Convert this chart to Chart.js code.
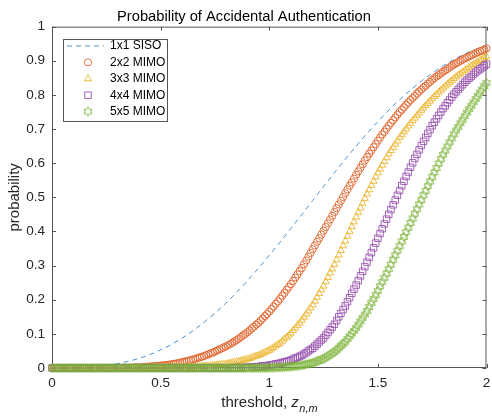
<!DOCTYPE html>
<html>
<head>
<meta charset="utf-8">
<script src="https://cdn.jsdelivr.net/npm/chart.js@4/dist/chart.umd.min.js"></script>
<style>
  html, body { margin: 0; padding: 0; background: #fff; }
  #wrap { width: 492px; height: 416px; }
</style>
</head>
<body>
<div id="wrap"><canvas id="probChart" width="492" height="416"></canvas></div>
<script>
const FONT = '"Liberation Sans", Arial, Helvetica, sans-serif';

// threshold grids (x positions the values were read at)
const thresholdGrid = Array.from({ length: 201 }, (_, i) => i / 100);
const sisoGrid = Array.from({ length: 21 }, (_, i) => i / 10);

const seriesNames = ['1x1 SISO', '2x2 MIMO', '3x3 MIMO', '4x4 MIMO', '5x5 MIMO'];
const xTicks = [0, 0.5, 1, 1.5, 2];

// 1x1 SISO, read every 0.1
const siso1x1 = [0, 0.0005, 0.004, 0.013, 0.028, 0.053, 0.088, 0.134, 0.190, 0.256,
  0.330, 0.409, 0.491, 0.572, 0.650, 0.722, 0.786, 0.840, 0.885, 0.920, 0.946];

// MIMO curves, read every 0.01 (one row = 0.1 of threshold)
const mimo2x2 = [
  0, 0, 0, 0, 0, 0, 0, 0, 0, 0,
  0, 0, 0, 0, 0, 0, 0, 0, 0, 0,
  0, 0, 0, 0, 0, 0, 0, 0, 0, 0,
  0, 0, 0, .001, .001, .001, .001, .001, .002, .002,
  .002, .002, .003, .003, .004, .004, .005, .005, .006, .006,
  .007, .008, .008, .009, .010, .011, .012, .013, .014, .016,
  .017, .019, .020, .022, .023, .025, .027, .029, .031, .033,
  .035, .038, .040, .043, .045, .048, .051, .054, .057, .060,
  .063, .067, .070, .074, .078, .082, .086, .091, .096, .100,
  .105, .110, .116, .121, .127, .132, .139, .145, .152, .158,
  .165, .173, .180, .188, .195, .203, .212, .220, .229, .237,
  .246, .255, .265, .274, .284, .293, .304, .315, .326, .337,
  .348, .359, .370, .380, .391, .402, .413, .424, .435, .446,
  .457, .468, .479, .490, .501, .512, .523, .534, .544, .555,
  .566, .576, .587, .597, .608, .618, .628, .637, .647, .656,
  .666, .675, .684, .692, .701, .710, .718, .726, .734, .742,
  .750, .757, .764, .771, .778, .785, .791, .797, .804, .810,
  .816, .822, .827, .833, .838, .844, .849, .854, .858, .863,
  .868, .872, .876, .881, .885, .889, .893, .896, .900, .903,
  .907, .910, .913, .916, .919, .922, .925, .928, .930, .933,
  .936
];

const mimo3x3 = [
  0, 0, 0, 0, 0, 0, 0, 0, 0, 0,
  0, 0, 0, 0, 0, 0, 0, 0, 0, 0,
  0, 0, 0, 0, 0, 0, 0, 0, 0, 0,
  0, 0, 0, 0, 0, 0, 0, 0, 0, 0,
  0, 0, 0, 0, 0, 0, 0, 0, 0, 0,
  0, 0, 0, .001, .001, .001, .001, .001, .002, .002,
  .002, .002, .002, .003, .003, .003, .003, .004, .004, .005,
  .005, .006, .006, .007, .007, .008, .009, .010, .010, .011,
  .012, .013, .014, .016, .017, .018, .020, .021, .023, .024,
  .026, .028, .030, .033, .035, .037, .040, .043, .046, .049,
  .052, .056, .060, .065, .069, .073, .079, .085, .090, .096,
  .102, .110, .117, .125, .132, .140, .149, .158, .167, .176,
  .185, .196, .207, .218, .229, .240, .253, .265, .278, .290,
  .303, .317, .331, .344, .358, .372, .386, .400, .414, .428,
  .442, .456, .469, .483, .496, .510, .522, .535, .547, .560,
  .572, .583, .594, .605, .616, .627, .637, .646, .656, .665,
  .675, .683, .692, .700, .709, .717, .725, .732, .740, .747,
  .755, .762, .769, .775, .782, .789, .795, .801, .808, .814,
  .820, .826, .831, .837, .842, .848, .853, .858, .862, .867,
  .872, .876, .880, .885, .889, .893, .897, .901, .904, .908,
  .912
];

const mimo4x4 = [
  0, 0, 0, 0, 0, 0, 0, 0, 0, 0,
  0, 0, 0, 0, 0, 0, 0, 0, 0, 0,
  0, 0, 0, 0, 0, 0, 0, 0, 0, 0,
  0, 0, 0, 0, 0, 0, 0, 0, 0, 0,
  0, 0, 0, 0, 0, 0, 0, 0, 0, 0,
  0, 0, 0, 0, 0, 0, 0, 0, 0, 0,
  0, 0, 0, 0, 0, 0, 0, 0, 0, 0,
  0, 0, 0, 0, 0, 0, 0, 0, 0, 0,
  0, 0, 0, 0, .001, .001, .001, .001, .001, .002,
  .002, .002, .003, .003, .004, .004, .005, .006, .006, .007,
  .008, .009, .010, .012, .013, .014, .016, .018, .019, .021,
  .023, .026, .029, .031, .034, .037, .041, .045, .050, .054,
  .058, .064, .070, .076, .082, .088, .096, .104, .112, .120,
  .128, .139, .150, .160, .171, .182, .194, .206, .219, .231,
  .243, .256, .270, .283, .297, .310, .324, .338, .352, .366,
  .380, .394, .408, .422, .436, .450, .464, .478, .492, .506,
  .520, .534, .547, .561, .574, .588, .601, .614, .626, .639,
  .652, .664, .675, .687, .698, .710, .720, .730, .740, .750,
  .760, .768, .777, .785, .794, .802, .809, .816, .823, .830,
  .837, .843, .849, .854, .860, .866, .871, .876, .880, .885,
  .890
];

const mimo5x5 = [
  0, 0, 0, 0, 0, 0, 0, 0, 0, 0,
  0, 0, 0, 0, 0, 0, 0, 0, 0, 0,
  0, 0, 0, 0, 0, 0, 0, 0, 0, 0,
  0, 0, 0, 0, 0, 0, 0, 0, 0, 0,
  0, 0, 0, 0, 0, 0, 0, 0, 0, 0,
  0, 0, 0, 0, 0, 0, 0, 0, 0, 0,
  0, 0, 0, 0, 0, 0, 0, 0, 0, 0,
  0, 0, 0, 0, 0, 0, 0, 0, 0, 0,
  0, 0, 0, 0, 0, 0, 0, 0, 0, 0,
  0, 0, 0, 0, 0, 0, 0, 0, 0, 0,
  .001, .001, .001, .002, .002, .002, .002, .003, .003, .004,
  .004, .005, .006, .006, .007, .008, .009, .011, .012, .014,
  .015, .017, .020, .022, .025, .027, .031, .035, .039, .043,
  .047, .053, .059, .065, .071, .077, .085, .093, .101, .109,
  .117, .127, .137, .147, .157, .167, .179, .191, .202, .214,
  .226, .239, .252, .264, .277, .290, .303, .317, .330, .344,
  .357, .371, .384, .398, .411, .425, .438, .452, .465, .479,
  .492, .506, .519, .533, .546, .560, .573, .586, .599, .612,
  .625, .637, .649, .661, .673, .685, .696, .706, .717, .727,
  .738, .748, .758, .768, .778, .788, .797, .807, .816, .826,
  .835
];

const colors = ['#4A93D6', '#E0622A', '#EDB530', '#9A52B0', '#7DB43A'];

function pairs(xs, ys) {
  return xs.map((x, i) => ({ x: x, y: ys[i] }));
}

function tickText(v) {
  return String(Math.round(v * 100) / 100);
}

// MATLAB-like hexagram marker as a small canvas
function hexagram(color, r) {
  const s = Math.ceil(r * 2 + 3);
  const c = document.createElement('canvas');
  c.width = s; c.height = s;
  const g = c.getContext('2d');
  g.strokeStyle = color;
  g.lineWidth = 0.9;
  g.beginPath();
  for (let k = 0; k < 12; k++) {
    const a = -Math.PI / 2 + k * Math.PI / 6;
    const rr = k % 2 ? r / Math.sqrt(3) : r;
    const px = s / 2 + rr * Math.cos(a), py = s / 2 + rr * Math.sin(a);
    if (k) g.lineTo(px, py); else g.moveTo(px, py);
  }
  g.closePath();
  g.stroke();
  return c;
}

const hexMarker = hexagram(colors[4], 4.5);
const markerStyles = [null, 'circle', 'triangle', 'rect', hexMarker];
const markerRadius = [0, 3.6, 4, 4.6, 4.5];

function drawGlyph(ctx, i, x, y) {
  ctx.save();
  ctx.strokeStyle = colors[i];
  ctx.lineWidth = 0.9;
  const r = markerRadius[i];
  ctx.beginPath();
  if (i === 1) {
    ctx.arc(x, y, r, 0, Math.PI * 2);
  } else if (i === 2) {
    ctx.moveTo(x, y - r); ctx.lineTo(x + r * 0.87, y + r * 0.5); ctx.lineTo(x - r * 0.87, y + r * 0.5); ctx.closePath();
  } else if (i === 3) {
    const h = r * Math.SQRT1_2;
    ctx.rect(x - h, y - h, 2 * h, 2 * h);
  }
  ctx.stroke();
  if (i === 4) ctx.drawImage(hexMarker, x - hexMarker.width / 2, y - hexMarker.height / 2);
  ctx.restore();
}

// axes box, inward ticks, legend and x label
const framePlugin = {
  id: 'frame',
  beforeDatasetsDraw(chart) {
    const { ctx, chartArea: a, scales } = chart;
    ctx.save();
    ctx.strokeStyle = '#555';
    ctx.lineWidth = 1;
    ctx.strokeRect(a.left + 0.5, a.top + 0.5, a.right - a.left - 1, a.bottom - a.top - 1);
    ctx.beginPath();
    const tl = 4;
    scales.y.ticks.forEach(t => {
      const py = Math.round(scales.y.getPixelForValue(t.value)) + 0.5;
      ctx.moveTo(a.left, py); ctx.lineTo(a.left + tl, py);
      ctx.moveTo(a.right, py); ctx.lineTo(a.right - tl, py);
    });
    scales.x.ticks.forEach(t => {
      const px = Math.round(scales.x.getPixelForValue(t.value)) + 0.5;
      ctx.moveTo(px, a.bottom); ctx.lineTo(px, a.bottom - tl);
      ctx.moveTo(px, a.top); ctx.lineTo(px, a.top + tl);
    });
    ctx.stroke();
    ctx.restore();
  },
  afterDraw(chart) {
    const { ctx, chartArea: a } = chart;
    ctx.save();
    const bx = 63, by = 39, bw = 104, bh = 82;
    ctx.fillStyle = '#fff';
    ctx.fillRect(bx, by, bw, bh);
    ctx.strokeStyle = '#555';
    ctx.lineWidth = 1;
    ctx.strokeRect(bx + 0.5, by + 0.5, bw, bh);
    ctx.font = '12px ' + FONT;
    ctx.textBaseline = 'middle';
    ctx.fillStyle = '#000';
    seriesNames.forEach((name, i) => {
      const y = 46 + i * 16.4;
      if (i === 0) {
        ctx.save();
        ctx.strokeStyle = colors[0];
        ctx.setLineDash([5, 4]);
        ctx.beginPath(); ctx.moveTo(67, y); ctx.lineTo(104, y); ctx.stroke();
        ctx.restore();
      } else {
        drawGlyph(ctx, i, 88, y);
      }
      ctx.fillText(name, 110, y);
    });
    // x axis label with italic subscript
    const cx = (a.left + a.right) / 2, base = 407;
    const part1 = 'threshold, ';
    ctx.font = '15px ' + FONT;
    const w1 = ctx.measureText(part1).width;
    ctx.font = 'italic 15px ' + FONT;
    const w2 = ctx.measureText('z').width;
    ctx.font = 'italic 11px ' + FONT;
    const w3 = ctx.measureText('n,m').width;
    const x0 = cx - (w1 + w2 + w3) / 2;
    ctx.textBaseline = 'alphabetic';
    ctx.fillStyle = '#262626';
    ctx.font = '15px ' + FONT;
    ctx.fillText(part1, x0, base);
    ctx.font = 'italic 15px ' + FONT;
    ctx.fillText('z', x0 + w1, base);
    ctx.font = 'italic 11px ' + FONT;
    ctx.fillText('n,m', x0 + w1 + w2 + 0.5, base + 5);
    ctx.restore();
  }
};

const datasets = [
  {
    label: seriesNames[0],
    data: pairs(sisoGrid, siso1x1),
    showLine: true,
    borderColor: colors[0],
    borderWidth: 1,
    borderDash: [5, 4],
    pointRadius: 0,
    cubicInterpolationMode: 'monotone',
    clip: false,
    order: 4
  }
];
[mimo2x2, mimo3x3, mimo4x4, mimo5x5].forEach((vals, k) => {
  const i = k + 1;
  datasets.push({
    label: seriesNames[i],
    data: pairs(thresholdGrid, vals),
    showLine: false,
    pointStyle: markerStyles[i],
    pointRadius: markerRadius[i],
    pointBorderWidth: 0.9,
    borderColor: colors[i],
    backgroundColor: 'rgba(0,0,0,0)',
    clip: false,
    order: 4 - i
  });
});

new Chart(document.getElementById('probChart'), {
  type: 'scatter',
  data: { datasets: datasets },
  options: {
    responsive: false,
    animation: false,
    events: [],
    layout: { padding: { left: 0, right: 4, top: 0, bottom: 0 } },
    plugins: {
      legend: { display: false },
      tooltip: { enabled: false },
      title: {
        display: true,
        text: 'Probability of Accidental Authentication',
        color: '#000',
        font: { family: FONT, size: 14.7, weight: 'normal' },
        padding: { top: 8, bottom: 1 }
      }
    },
    scales: {
      x: {
        type: 'linear',
        min: 0,
        max: 2,
        afterBuildTicks(s) { s.ticks = xTicks.map(v => ({ value: v })); },
        afterFit(s) { s.height = 48; s.paddingLeft = 0; s.paddingRight = 0; },
        grid: { display: false, drawTicks: false },
        border: { display: false },
        ticks: { color: '#262626', padding: 7, maxRotation: 0, callback: tickText, font: { family: FONT, size: 13.5 } }
      },
      y: {
        min: 0,
        max: 1,
        afterFit(s) { s.width = 52; s.paddingTop = 0; s.paddingBottom = 0; },
        grid: { display: false, drawTicks: false },
        border: { display: false },
        ticks: { stepSize: 0.1, color: '#262626', padding: 7, callback: tickText, font: { family: FONT, size: 13.5 } },
        title: {
          display: true,
          text: 'probability',
          color: '#262626',
          font: { family: FONT, size: 15 },
          padding: { top: 6, bottom: 0 }
        }
      }
    }
  },
  plugins: [framePlugin]
});
</script>
</body>
</html>
